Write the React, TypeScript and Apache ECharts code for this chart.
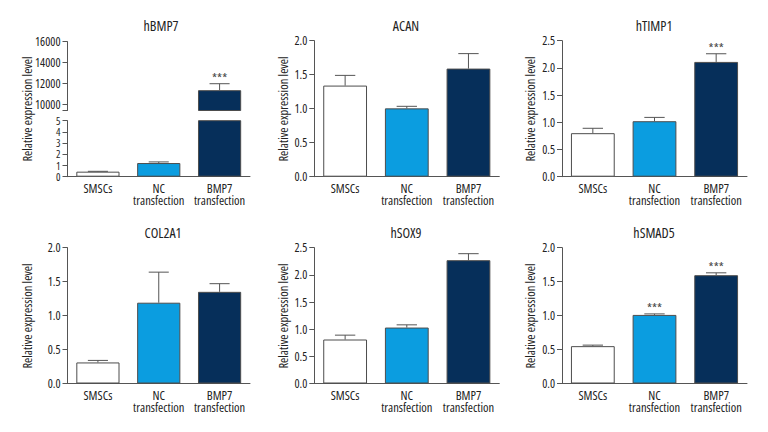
import React, { useEffect, useRef } from "react";
import * as echarts from "echarts";

const categories = ["SMSCs", "NC\ntransfection", "BMP7\ntransfection"];
const barColors = ["#ffffff", "#0b9de0", "#062f5a"];

const panelTitles = ["hBMP7", "ACAN", "hTIMP1", "COL2A1", "hSOX9", "hSMAD5"];

// means and (upper) error per panel
const hBMP7Mean = [0.45, 1.22, 11350];
const hBMP7Err = [0.03, 0.1, 620];
const hBMP7Sig = ["", "", "***"];

const acanMean = [1.34, 1.005, 1.59];
const acanErr = [0.15, 0.03, 0.22];
const acanSig = ["", "", ""];

const timp1Mean = [0.8, 1.02, 2.11];
const timp1Err = [0.09, 0.07, 0.15];
const timp1Sig = ["", "", "***"];

const col2a1Mean = [0.31, 1.19, 1.35];
const col2a1Err = [0.03, 0.45, 0.12];
const col2a1Sig = ["", "", ""];

const sox9Mean = [0.81, 1.03, 2.27];
const sox9Err = [0.08, 0.05, 0.12];
const sox9Sig = ["", "", ""];

const smad5Mean = [0.55, 1.01, 1.595];
const smad5Err = [0.015, 0.015, 0.035];
const smad5Sig = ["", "***", "***"];

const yUpperLabels = [10000, 12000, 14000, 16000];
const yUpperTicks = [9400, 10000, 12000, 14000, 16000];
const yLowerLabels = [0, 1, 2, 3, 4, 5];

const FONT = "'Open Sans', 'Roboto Condensed', sans-serif";
const AXIS_COLOR = "#555";
const TEXT_COLOR = "#222";

function App() {
  const ref = useRef<HTMLDivElement>(null);

  useEffect(() => {
    document.body.style.margin = "0";
    if (!ref.current) return;
    const chart = echarts.init(ref.current, null, { renderer: "svg" });

    const colX = [
      [67.5, 250],
      [314.3, 499.3],
      [562, 747],
    ];
    const mkGrid = (l: number, t: number, r: number, b: number) => ({
      left: l,
      top: t,
      width: r - l,
      height: b - t,
      containLabel: false,
    });
    // 0: hBMP7 upper, 1: hBMP7 lower, 2: ACAN, 3: TIMP1, 4: COL2A1, 5: SOX9, 6: SMAD5
    const grids: any[] = [
      mkGrid(colX[0][0], 41.7, colX[0][1], 110.5),
      mkGrid(colX[0][0], 120.7, colX[0][1], 176.7),
      mkGrid(colX[1][0], 40.7, colX[1][1], 176.7),
      mkGrid(colX[2][0], 40.7, colX[2][1], 176.7),
      mkGrid(colX[0][0], 247.7, colX[0][1], 383.5),
      mkGrid(colX[1][0], 247.7, colX[1][1], 383.5),
      mkGrid(colX[2][0], 247.7, colX[2][1], 383.5),
    ];

    const xAxes: any[] = grids.map((_, i) => ({
      type: "category",
      gridIndex: i,
      data: categories,
      show: i !== 0,
      axisLine: { show: i !== 0, lineStyle: { color: AXIS_COLOR, width: 1 } },
      axisTick: { show: false },
      axisLabel: {
        show: i !== 0,
        color: TEXT_COLOR,
        fontFamily: FONT,
        fontSize: 12.5,
        lineHeight: 12,
        margin: 6,
        interval: 0,
      },
    }));

    const lbl = (extra: any) => ({
      color: TEXT_COLOR,
      fontFamily: FONT,
      fontSize: 12,
      margin: 7,
      showMinLabel: true,
      showMaxLabel: true,
      hideOverlap: false,
      ...extra,
    });
    const fmt1 = (v: number) => v.toFixed(1);

    const baseY = (gridIndex: number, extra: any) => ({
      type: "value",
      gridIndex,
      splitLine: { show: false },
      axisLine: { show: true, lineStyle: { color: AXIS_COLOR, width: 1 } },
      axisTick: { show: true, length: 5, lineStyle: { color: AXIS_COLOR } },
      axisLabel: lbl({}),
      ...extra,
    });

    const yAxes: any[] = [
      baseY(0, {
        min: 9400,
        max: 16000,
        axisTick: { show: true, length: 5, lineStyle: { color: AXIS_COLOR }, customValues: yUpperTicks },
        axisLabel: lbl({ customValues: yUpperLabels, formatter: (v: number) => String(v) }),
      }),
      baseY(1, {
        min: 0,
        max: 5,
        interval: 1,
        axisLabel: lbl({ fontSize: 10.5, lineHeight: 10, customValues: yLowerLabels }),
      }),
      baseY(2, { min: 0, max: 2, interval: 0.5, axisLabel: lbl({ formatter: fmt1 }) }),
      baseY(3, { min: 0, max: 2.5, interval: 0.5, axisLabel: lbl({ formatter: fmt1 }) }),
      baseY(4, { min: 0, max: 2, interval: 0.5, axisLabel: lbl({ formatter: fmt1 }) }),
      baseY(5, { min: 0, max: 2.5, interval: 0.5, axisLabel: lbl({ formatter: fmt1 }) }),
      baseY(6, { min: 0, max: 2, interval: 0.5, axisLabel: lbl({ formatter: fmt1 }) }),
    ];

    const series: any[] = [];
    const addPanel = (
      gridIdx: number,
      means: number[],
      errs: number[],
      sigs: string[],
      lo: number,
      hi: number
    ) => {
      series.push({
        type: "bar",
        xAxisIndex: gridIdx,
        yAxisIndex: gridIdx,
        barWidth: "71%",
        clip: true,
        data: means.map((v, i) => ({
          value: v >= lo ? v : "-",
          itemStyle: { color: barColors[i], borderColor: "#4d4d4d", borderWidth: 1 },
        })),
      });
      const errData: number[][] = [];
      means.forEach((v, i) => {
        if (v >= lo && v <= hi) errData.push([i, v, v + errs[i]]);
      });
      series.push({
        type: "custom",
        xAxisIndex: gridIdx,
        yAxisIndex: gridIdx,
        data: errData,
        renderItem: (params: any, api: any) => {
          const x = api.value(0);
          const p0 = api.coord([x, api.value(1)]);
          const p1 = api.coord([x, api.value(2)]);
          const catW = api.size([1, 0])[0];
          const half = catW * 0.165;
          const sig = sigs[x];
          const children: any[] = [
            {
              type: "line",
              shape: { x1: p0[0], y1: p0[1], x2: p1[0], y2: p1[1] },
              style: { stroke: "#555", lineWidth: 1 },
            },
            {
              type: "line",
              shape: { x1: p1[0] - half, y1: p1[1], x2: p1[0] + half, y2: p1[1] },
              style: { stroke: "#555", lineWidth: 1 },
            },
          ];
          if (sig) {
            children.push({
              type: "text",
              x: p1[0],
              y: p1[1] + 1,
              style: {
                text: sig,
                fill: "#444",
                font: `13px ${FONT}`,
                align: "center",
                verticalAlign: "bottom",
              },
            });
          }
          return { type: "group", children };
        },
      });
    };

    addPanel(0, hBMP7Mean, hBMP7Err, hBMP7Sig, 9400, 16000);
    addPanel(1, hBMP7Mean, hBMP7Err, hBMP7Sig, 0, 5);
    addPanel(2, acanMean, acanErr, acanSig, 0, 2);
    addPanel(3, timp1Mean, timp1Err, timp1Sig, 0, 2.5);
    addPanel(4, col2a1Mean, col2a1Err, col2a1Sig, 0, 2);
    addPanel(5, sox9Mean, sox9Err, sox9Sig, 0, 2.5);
    addPanel(6, smad5Mean, smad5Err, smad5Sig, 0, 2);

    const titlePos = [
      [161, 18.7],
      [406, 18.7],
      [654, 18.7],
      [163, 225.7],
      [406, 225.7],
      [654, 225.7],
    ];
    const titles = panelTitles.map((t, i) => ({
      text: t,
      left: titlePos[i][0],
      top: titlePos[i][1],
      padding: 0,
      textAlign: "center",
      textStyle: { color: TEXT_COLOR, fontFamily: FONT, fontSize: 14, fontWeight: "normal" },
    }));

    const yName = "Relative expression level";
    const nameSpecs = [
      [27, 109],
      [283, 109],
      [530, 109],
      [27, 316],
      [283, 316],
      [530, 316],
    ];
    const graphics = nameSpecs.map(([x, y]) => ({
      type: "text",
      x,
      y,
      rotation: Math.PI / 2,
      style: {
        text: yName,
        fill: TEXT_COLOR,
        font: `12.5px ${FONT}`,
        align: "center",
        verticalAlign: "middle",
      },
    }));

    chart.setOption({
      animation: false,
      backgroundColor: "#ffffff",
      title: titles,
      grid: grids,
      xAxis: xAxes,
      yAxis: yAxes,
      series,
      graphic: graphics,
    });

    return () => chart.dispose();
  }, []);

  return (
    <>
      <style>{`#root svg text { font-stretch: condensed !important; }`}</style>
      <div ref={ref} style={{ width: 768, height: 432 }} />
    </>
  );
}

export default App;
